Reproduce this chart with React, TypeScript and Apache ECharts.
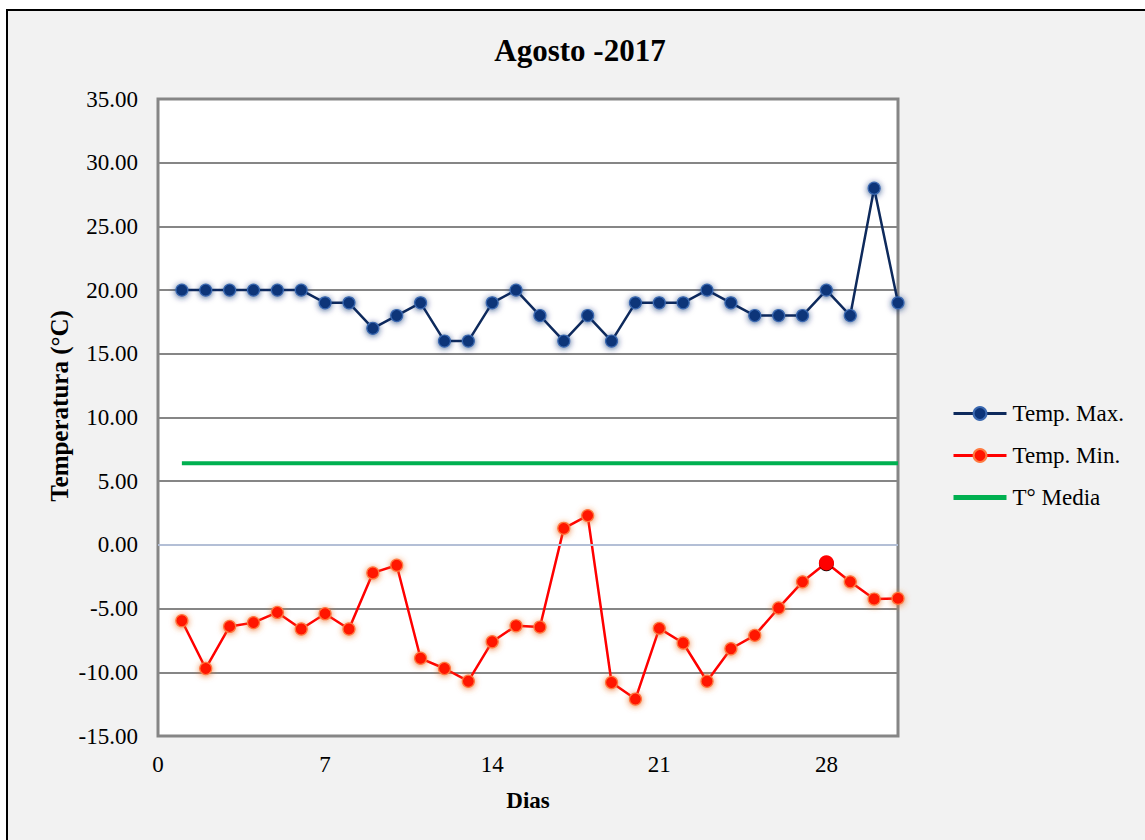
import React, { useEffect, useRef } from "react";
import * as echarts from "echarts";

const days = [1, 2, 3, 4, 5, 6, 7, 8, 9, 10, 11, 12, 13, 14, 15, 16, 17, 18, 19, 20, 21, 22, 23, 24, 25, 26, 27, 28, 29, 30, 31];
const tempMax = [20, 20, 20, 20, 20, 20, 19, 19, 17, 18, 19, 16, 16, 19, 20, 18, 16, 18, 16, 19, 19, 19, 20, 19, 18, 18, 18, 20, 18, 28, 19];
const tempMin = [-5.95, -9.7, -6.4, -6.1, -5.3, -6.6, -5.4, -6.6, -2.2, -1.6, -8.9, -9.7, -10.7, -7.6, -6.35, -6.45, 1.3, 2.3, -10.8, -12.1, -6.55, -7.7, -10.7, -8.15, -7.1, -4.95, -2.9, -1.4, -2.9, -4.25, -4.2];
const tempMedia = [6.4, 6.4, 6.4, 6.4, 6.4, 6.4, 6.4, 6.4, 6.4, 6.4, 6.4, 6.4, 6.4, 6.4, 6.4, 6.4, 6.4, 6.4, 6.4, 6.4, 6.4, 6.4, 6.4, 6.4, 6.4, 6.4, 6.4, 6.4, 6.4, 6.4, 6.4];
const highlightDay = 28;
const seriesNames = ["Temp. Max.", "Temp. Min.", "T° Media"];
const titleText = "Agosto -2017";
const xName = "Dias";
const yName = "Temperatura (°C)";

const FONT = "'Liberation Serif', 'Times New Roman', serif";

export default function App() {
  const ref = useRef<HTMLDivElement>(null);

  useEffect(() => {
    if (!ref.current) return;
    const chart = echarts.init(ref.current, undefined, { renderer: "svg" });

    const maxData = days.map((d, i) => [d, tempMax[i]]);
    const minData = days.map((d, i) =>
      d === highlightDay
        ? {
            value: [d, tempMin[i]],
            symbolSize: 15,
            itemStyle: { color: "#ff0000", borderWidth: 0, shadowBlur: 0, shadowColor: "transparent" },
          }
        : [d, tempMin[i]]
    );
    const mediaData = days.map((d, i) => [d, tempMedia[i]]);

    chart.setOption({
      animation: false,
      backgroundColor: "transparent",
      textStyle: { fontFamily: FONT },
      graphic: [
        {
          type: "text",
          x: 580,
          y: 50,
          style: {
            text: titleText,
            font: `bold 31px ${FONT}`,
            fill: "#000",
            align: "center",
            verticalAlign: "middle",
          },
        },
        {
          type: "text",
          x: 59,
          y: 406,
          rotation: Math.PI / 2,
          style: {
            text: yName,
            font: `bold 25px ${FONT}`,
            fill: "#000",
            align: "center",
            verticalAlign: "middle",
          },
        },
      ],
      grid: {
        left: 158,
        top: 99,
        right: 247,
        bottom: 104,
        show: true,
        backgroundColor: "#ffffff",
        borderColor: "#868686",
        borderWidth: 3,
        containLabel: false,
      },
      legend: {
        orient: "vertical",
        left: 951,
        top: 402,
        padding: 0,
        itemWidth: 53,
        itemHeight: 16,
        itemGap: 19,
        data: [
          { name: seriesNames[0], lineStyle: { width: 3, color: "#0e2a5c" } },
          { name: seriesNames[1], lineStyle: { width: 3, color: "#ff0000" } },
          { name: seriesNames[2], lineStyle: { width: 5, color: "#00b050" }, itemStyle: { opacity: 0 } },
        ],
        textStyle: { fontFamily: FONT, fontSize: 23, color: "#000", padding: [0, 0, 0, 1] },
      },
      xAxis: {
        type: "value",
        min: 0,
        max: 31,
        interval: 7,
        name: xName,
        nameLocation: "middle",
        nameGap: 53,
        nameTextStyle: { fontFamily: FONT, fontSize: 23, fontWeight: "bold", color: "#000" },
        axisLine: { show: false },
        axisTick: { show: false },
        splitLine: { show: false },
        axisLabel: {
          showMaxLabel: false,
          margin: 17,
          fontFamily: FONT,
          fontSize: 23,
          color: "#000",
        },
      },
      yAxis: {
        type: "value",
        min: -15,
        max: 35,
        interval: 5,
        axisLine: { show: false },
        axisTick: { show: false },
        splitLine: { show: true, lineStyle: { color: "#868686", width: 2 } },
        axisLabel: {
          margin: 20,
          fontFamily: FONT,
          fontSize: 23,
          color: "#000",
          formatter: (v: number) => v.toFixed(2),
        },
      },
      series: [
        {
          name: seriesNames[0],
          type: "line",
          z: 4,
          data: maxData,
          symbol: "circle",
          symbolSize: 12,
          lineStyle: { color: "#0e2a5c", width: 2.5 },
          itemStyle: {
            color: "#0c3479",
            borderColor: "#3a68b0",
            borderWidth: 1.2,
            shadowBlur: 6,
            shadowColor: "rgba(10,40,110,0.75)",
            shadowOffsetY: 1,
          },
        },
        {
          name: seriesNames[1],
          type: "line",
          z: 4,
          data: minData,
          symbol: "circle",
          symbolSize: 12,
          lineStyle: { color: "#ff0000", width: 2.5 },
          itemStyle: {
            color: "#ff1400",
            borderColor: "#ff7a40",
            borderWidth: 1.2,
            shadowBlur: 6,
            shadowColor: "rgba(235,110,40,0.85)",
            shadowOffsetY: 1,
          },
        },
        {
          name: seriesNames[2],
          type: "line",
          z: 2,
          data: mediaData,
          showSymbol: false,
          symbol: "none",
          lineStyle: { color: "#00b050", width: 4 },
          itemStyle: { color: "#00b050" },
          markLine: {
            silent: true,
            symbol: "none",
            label: { show: false },
            lineStyle: { color: "#b3bfd6", width: 2, type: "solid" },
            data: [{ yAxis: 0 }],
          },
        },
      ],
    });

    return () => chart.dispose();
  }, []);

  return (
    <div style={{ position: "fixed", left: 0, top: 0, width: 1145, height: 840, background: "#ffffff", overflow: "hidden" }}>
      <div
        style={{
          position: "absolute",
          left: 6,
          top: 9,
          width: 1160,
          height: 860,
          background: "#f2f2f2",
          borderLeft: "2.5px solid #000",
          borderTop: "2.5px solid #000",
        }}
      />
      <div ref={ref} style={{ position: "absolute", left: 0, top: 0, width: 1145, height: 840 }} />
    </div>
  );
}
